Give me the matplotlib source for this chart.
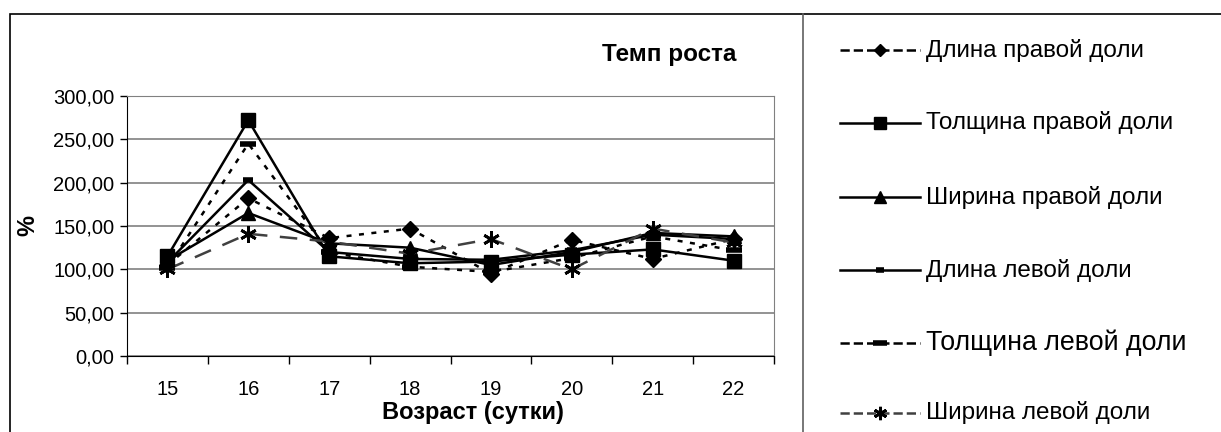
import matplotlib.pyplot as plt
from matplotlib.patches import Rectangle
from matplotlib.lines import Line2D
from matplotlib.ticker import FuncFormatter

plt.rcParams['font.family'] = ['Liberation Sans', 'DejaVu Sans']

# DATA
ages = [15, 16, 17, 18, 19, 20, 21, 22]
dlina_prav = [105, 182, 136, 147, 95, 134, 112, 135]
tolsh_prav = [115, 272, 115, 107, 109, 117, 123, 110]
shir_prav = [110, 165, 130, 125, 105, 120, 142, 138]
dlina_lev = [108, 203, 120, 112, 111, 122, 140, 135]
tolsh_lev = [102, 245, 120, 103, 97, 113, 138, 122]
shir_lev = [100, 141, 132, 118, 135, 100, 147, 131]

labels = ['Длина правой доли', 'Толщина правой доли', 'Ширина правой доли',
          'Длина левой доли', 'Толщина левой доли', 'Ширина левой доли']

fig = plt.figure(figsize=(12.21, 4.32), dpi=100)
ax = fig.add_axes([127 / 1221, 76 / 432, 647 / 1221, 260 / 432])

asterisk = (6, 2, 0)
styles = [
    dict(ls=(0, (2, 3)), lw=1.8, color='black', marker='D', ms=8),
    dict(ls='-', lw=1.8, color='black', marker='s', ms=10),
    dict(ls='-', lw=1.8, color='black', marker='^', ms=10),
    dict(ls='-', lw=1.8, color='black', marker='_', ms=7, mew=4),
    dict(ls=(0, (2, 3)), lw=1.8, color='black', marker='_', ms=12, mew=4),
    dict(ls=(0, (7, 5)), lw=1.8, color='#404040', marker=asterisk, ms=12,
         mew=2, mec='black'),
]
series = [dlina_prav, tolsh_prav, shir_prav, dlina_lev, tolsh_lev, shir_lev]

handles = []
for vals, st, lab in zip(series, styles, labels):
    line, = ax.plot(ages, vals, label=lab, **st)
    handles.append(line)

ax.set_xlim(14.5, 22.5)
ax.set_ylim(0, 300)
ax.set_yticks(range(0, 301, 50))
ax.yaxis.set_major_formatter(FuncFormatter(lambda v, p: f'{v:.2f}'.replace('.', ',')))
ax.set_xticks([x + 0.5 for x in range(14, 23)])
ax.set_xticklabels([])
ax.set_xticks(ages, minor=True)
ax.set_xticklabels([str(a) for a in ages], minor=True)
ax.tick_params(axis='x', which='major', direction='out', length=6, width=1)
ax.tick_params(axis='x', which='minor', length=0, pad=17, labelsize=14.5)
ax.tick_params(axis='y', direction='out', length=5, width=1, labelsize=14.5, pad=4)
ax.grid(axis='y', color='#808080', lw=1.2)
ax.set_axisbelow(True)
for side in ['top', 'right']:
    ax.spines[side].set_color('#808080')
ax.spines['left'].set_color('black')
ax.spines['bottom'].set_color('black')

ax.set_xlabel('Возраст (сутки)', fontsize=17, fontweight='bold', labelpad=0)
ax.set_ylabel('%', fontsize=17, fontweight='bold', labelpad=2)
ax.yaxis.set_label_coords(-0.135, 0.5)
ax.xaxis.set_label_coords(0.535, -0.175)
fig.text(736 / 1221, 1 - 55 / 432, 'Темп роста', ha='right', va='center',
         fontsize=17.5, fontweight='bold')

# outer frame and legend separator
fig.add_artist(Rectangle((10 / 1221, -0.05), 1.2, 1 - 14 / 432 + 0.05,
                         transform=fig.transFigure, fill=False, ec='black', lw=1.2))
fig.add_artist(Line2D([803 / 1221, 803 / 1221], [0, 1 - 14 / 432],
                      transform=fig.transFigure, color='#606060', lw=1.2))

# legend entries
ys = [50, 123, 197, 270, 343, 413]
sizes = [17.5, 17.5, 17.5, 17.5, 19.3, 17.5]
for h, lab, y, fs in zip(handles, labels, ys, sizes):
    yf = 1 - y / 432
    ln = Line2D([840 / 1221, 920 / 1221], [yf, yf], transform=fig.transFigure,
                color=h.get_color(), ls=h.get_linestyle(), lw=1.8)
    fig.add_artist(ln)
    mk = Line2D([880 / 1221], [yf], transform=fig.transFigure, ls='none',
                marker=h.get_marker(), ms=h.get_markersize() * 0.8,
                mew=h.get_markeredgewidth(), color='black')
    fig.add_artist(mk)
    fig.text(926 / 1221, yf, lab, ha='left', va='center', fontsize=fs)

fig.savefig('out.png', dpi=100)
